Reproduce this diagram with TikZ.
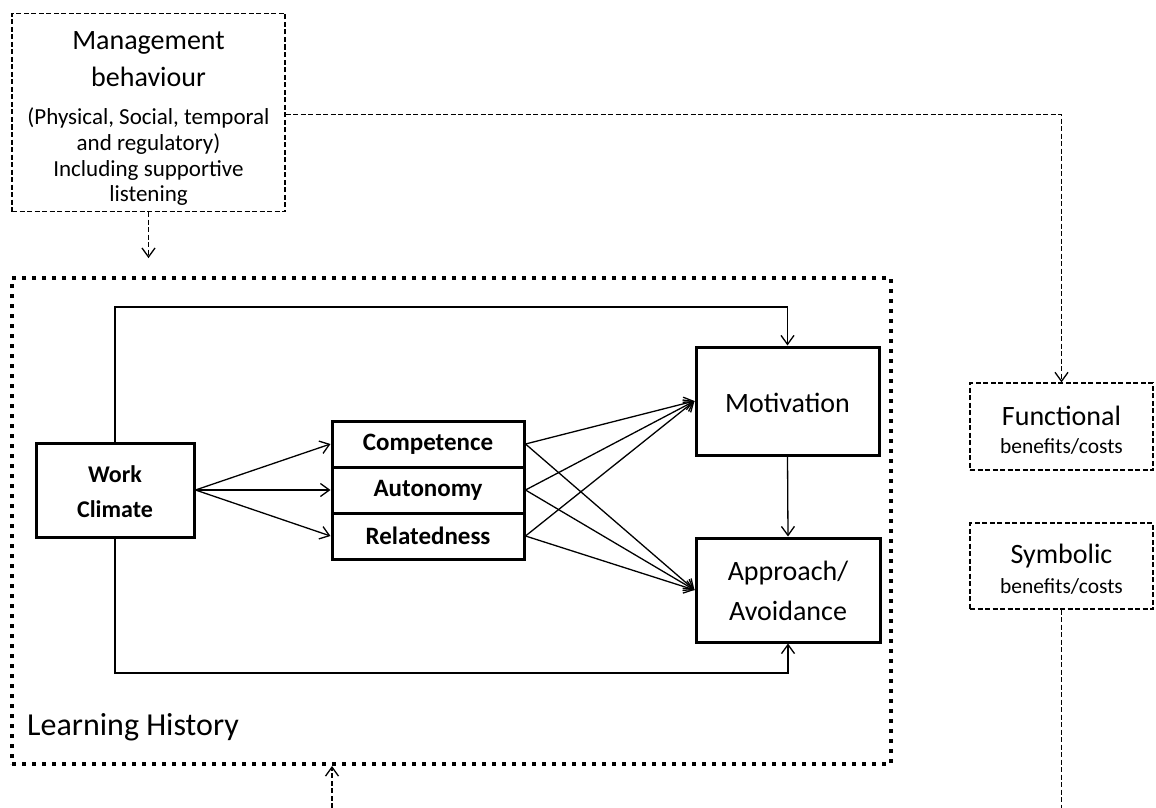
\documentclass[tikz,border=0pt]{standalone}
\usepackage{fontspec}
\setmainfont{Carlito}
\usetikzlibrary{arrows.meta}
\begin{document}
\begin{tikzpicture}[x=1pt,y=-1pt,
  thickbox/.style={draw, line width=3pt, inner sep=0pt},
  dbox/.style={draw, line width=1.2pt, dash pattern=on 5pt off 2.5pt, inner sep=0pt},
  dotbox/.style={draw, line width=4pt, dash pattern=on 4pt off 6pt, inner sep=0pt},
  arr/.style={line width=1.3pt, -{Straight Barb[length=9pt,width=13pt]}},
  darr/.style={arr, dash pattern=on 5pt off 2.5pt},
  big/.style={font=\fontsize{28}{32}\selectfont, inner sep=0pt, anchor=base},
  small/.style={font=\fontsize{23}{26}\selectfont, inner sep=0pt, anchor=base},
  smaller/.style={font=\fontsize{21.5}{25}\selectfont, inner sep=0pt, anchor=base},
  bolder/.style={font=\fontsize{24}{28}\selectfont\bfseries, inner sep=0pt, anchor=base},
  factor/.style={thickbox, minimum width=192pt, minimum height=46pt, font=\fontsize{25}{28}\selectfont\bfseries}
]
\useasboundingbox (0,0) rectangle (1156,808);

% management box with its text lines
\node[dbox, minimum width=273pt, minimum height=198pt] (mgmt) at (148.5,112.5) {};
\node[big] (m1) at (148.5,50) {Management};
\node[big] (m2) at (148.5,86) {behaviour};
\node[small] (m3) at (148.5,124) {(Physical, Social, temporal};
\node[small] (m4) at (148.5,150) {and regulatory)};
\node[small] (m5) at (148.5,176) {Including supportive};
\node[small] (m6) at (148.5,201) {listening};

% learning history frame
\node[dotbox, minimum width=879pt, minimum height=486pt] (lh) at (451.5,521) {};
\node[font=\fontsize{32}{36}\selectfont, inner sep=0pt, anchor=base west] (lhlabel) at (27,735) {Learning History};

% inner model
\node[thickbox, minimum width=158pt, minimum height=94pt] (wc) at (115,490) {};
\node[bolder] (wc1) at (115,482) {Work};
\node[bolder] (wc2) at (115,517) {Climate};

\node[factor] (comp) at (428,444) {Competence};
\node[factor] (auto) at (428,490) {Autonomy};
\node[factor] (rel) at (428,536) {Relatedness};

\node[thickbox, minimum width=183pt, minimum height=108pt] (mot) at (787.5,401) {};
\node[big] (mottext) at (787.5,412) {Motivation};
\node[thickbox, minimum width=184pt, minimum height=104pt] (app) at (788,590) {};
\node[big] (app1) at (788,580) {Approach/};
\node[big] (app2) at (788,620) {Avoidance};

% outcome boxes
\node[dbox, minimum width=183pt, minimum height=87pt] (func) at (1061.5,426.5) {};
\node[big] (func1) at (1061.5,425) {Functional};
\node[smaller] (func2) at (1061.5,453) {benefits/costs};
\node[dbox, minimum width=183pt, minimum height=86pt] (sym) at (1061.5,566) {};
\node[big] (sym1) at (1061.5,563) {Symbolic};
\node[smaller] (sym2) at (1061.5,593) {benefits/costs};

% connectors
\coordinate (topturn) at (787.5,307);
\coordinate (botturn) at (788,673);
\coordinate (symend) at (1061.5,808);
\coordinate (lhin) at (332,808);

\draw[darr] (mgmt.south) -- ++(0,46);
\draw[darr] ([yshift=-2pt]mgmt.east) -| (func.north);
\draw[line width=1.2pt, dash pattern=on 5pt off 2.5pt] (sym.south) -- (symend);
\draw[darr] (lhin) -- (lhin |- lh.south);

\draw[arr] (wc.north) |- (topturn) -- (mot.north);
\draw[arr] (wc.south) |- (botturn) -- (app.south);
\draw[arr] (wc.east) -- (comp.west);
\draw[arr] (wc.east) -- (auto.west);
\draw[arr] (wc.east) -- (rel.west);
\foreach \s in {comp,auto,rel}{
  \draw[arr] (\s.east) -- (mot.west);
  \draw[arr] (\s.east) -- (app.west);
}
\draw[arr] (mot.south) -- (app.north);
\end{tikzpicture}
\end{document}
